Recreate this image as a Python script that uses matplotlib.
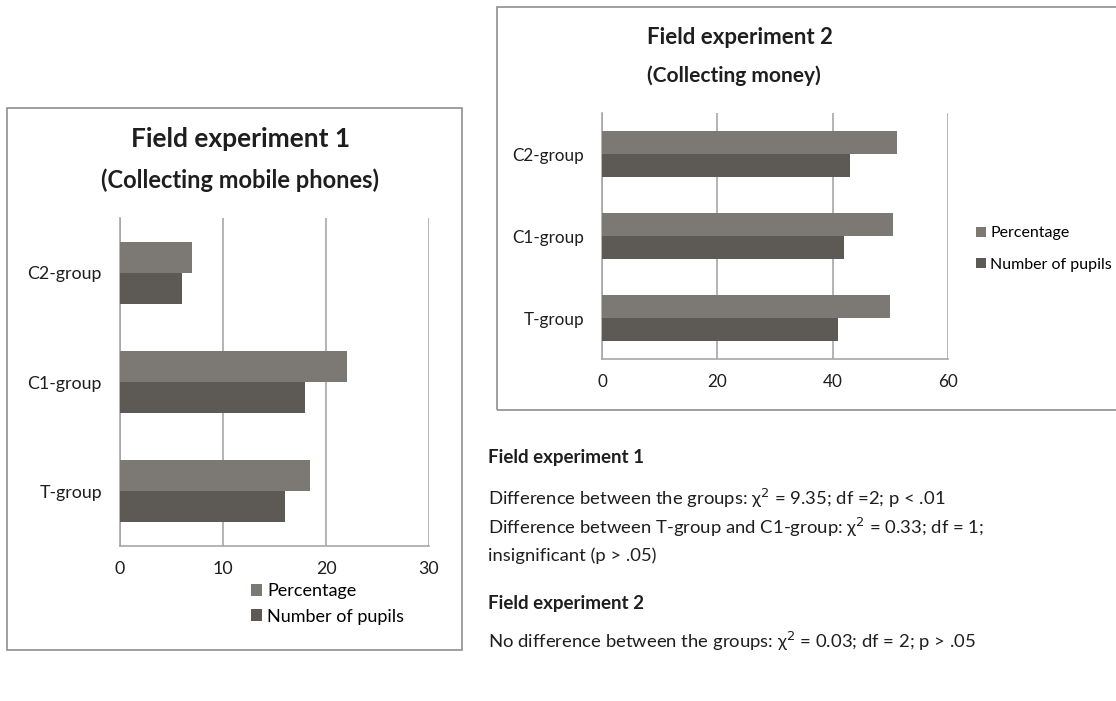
import numpy as np
import matplotlib.pyplot as plt
from matplotlib.patches import Rectangle

plt.rcParams['font.family'] = ['Lato', 'DejaVu Sans']

groups = ["T-group", "C1-group", "C2-group"]

# field experiment 1 (mobile phones)
exp1_pct = [18.4, 22, 7]
exp1_num = [16, 18, 6]

# field experiment 2 (money)
exp2_pct = [50, 50.5, 51.1]
exp2_num = [41, 42, 43]

c_pct = "#7c7975"
c_num = "#5d5a55"
c_grid = "#a8a5a5"
c_box = "#8f8f8f"
c_text = "#1e1e1e"

fig = plt.figure(figsize=(11.16, 7.01), dpi=100)
W, H = 1116, 701


def fx(px):
    return px / W


def fy(py):
    return 1 - py / H


def box(x0, y0, x1, y1):
    r = Rectangle((fx(x0), fy(y1)), fx(x1) - fx(x0), fy(y0) - fy(y1),
                  transform=fig.transFigure, fill=False, edgecolor=c_box, lw=1.2)
    fig.add_artist(r)


def bar_chart(ax, pct, num, xmax, step, h, fs):
    y = np.arange(len(groups))
    ax.barh(y + h / 2, pct, height=h, color=c_pct, label="Percentage", zorder=3)
    ax.barh(y - h / 2, num, height=h, color=c_num, label="Number of pupils", zorder=3)
    ax.set_ylim(-0.5, 2.5)
    ax.set_xlim(0, xmax)
    ax.set_xticks(np.arange(0, xmax + 1, step))
    ax.set_yticks(y)
    ax.set_yticklabels(groups)
    ax.tick_params(length=0, labelsize=fs, colors=c_text)
    ax.tick_params(axis="y", pad=13)
    ax.tick_params(axis="x", pad=11)
    ax.grid(axis="x", color=c_grid, lw=1.2, zorder=0)
    for s in ["top", "right"]:
        ax.spines[s].set_visible(False)
    for s in ["left", "bottom"]:
        ax.spines[s].set_color(c_grid)
        ax.spines[s].set_linewidth(1.2)


# left chart
box(7, 108, 462, 650)
ax1 = fig.add_axes([fx(120), fy(546), fx(429) - fx(120), fy(218) - fy(546)])
bar_chart(ax1, exp1_pct, exp1_num, 30, 10, 0.284, 12.8)
fig.text(fx(241), fy(139), "Field experiment 1", ha="center", va="center",
         fontsize=19, fontweight="bold", color=c_text)
fig.text(fx(240), fy(180), "(Collecting mobile phones)", ha="center", va="center",
         fontsize=17, fontweight="bold", color=c_text)
ax1.legend(loc="center left", bbox_to_anchor=(fx(242), fy(604)),
           bbox_transform=fig.transFigure, frameon=False, fontsize=13,
           handlelength=0.6, handleheight=0.6, handletextpad=0.3,
           labelspacing=0.5, borderpad=0)

# right chart
box(497, 7, 1130, 410)
ax2 = fig.add_axes([fx(602), fy(359), fx(948) - fx(602), fy(113) - fy(359)])
bar_chart(ax2, exp2_pct, exp2_num, 60, 20, 0.28, 12.3)
fig.text(fx(740), fy(38), "Field experiment 2", ha="center", va="center",
         fontsize=16, fontweight="bold", color=c_text)
fig.text(fx(734), fy(76), "(Collecting money)", ha="center", va="center",
         fontsize=15, fontweight="bold", color=c_text)
ax2.legend(loc="center left", bbox_to_anchor=(fx(968), fy(249)),
           bbox_transform=fig.transFigure, frameon=False, fontsize=11.5,
           handlelength=0.6, handleheight=0.6, handletextpad=0.3,
           labelspacing=1.1, borderpad=0)

# statistics text
tx = fx(488)
fs = 13.3
fig.text(tx, fy(458), "Field experiment 1", fontsize=13.5, fontweight="bold",
         va="center", color=c_text)
lines1 = [
    "Difference between the groups: \u03c7$^2$ = 9.35; df =2; p < .01",
    "Difference between T-group and C1-group: \u03c7$^2$ = 0.33; df = 1;",
    "insignificant (p > .05)",
]
for i, s in enumerate(lines1):
    fig.text(tx, fy(498 + 29 * i), s, fontsize=fs, va="center", color=c_text)
fig.text(tx, fy(603), "Field experiment 2", fontsize=13.5, fontweight="bold",
         va="center", color=c_text)
fig.text(tx, fy(641), "No difference between the groups: \u03c7$^2$ = 0.03; df = 2; p > .05",
         fontsize=fs, va="center", color=c_text)

fig.savefig("out.png", dpi=100)
